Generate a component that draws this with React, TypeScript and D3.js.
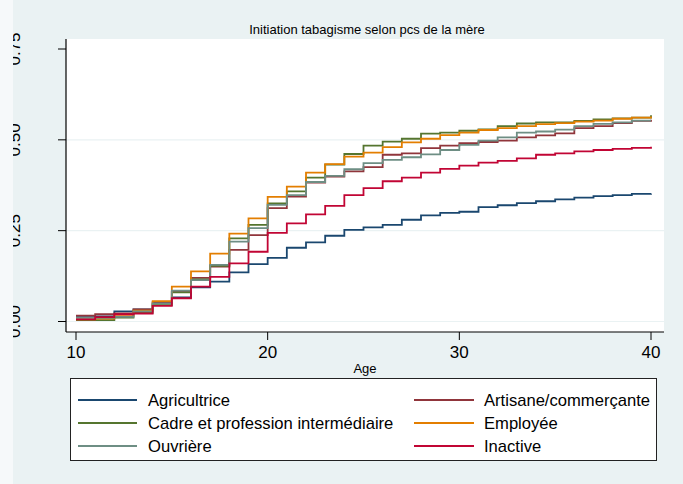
import React from "react";
import * as d3 from "d3";

const ages = d3.range(10, 41);

const seriesNames = [
  "Agricultrice",
  "Artisane/commerçante",
  "Cadre et profession intermédiaire",
  "Employée",
  "Ouvrière",
  "Inactive",
];

const seriesColors = ["#1a476f", "#90353b", "#55752f", "#e37e00", "#6e8e84", "#c10534"];

const agricultrice = [0.012, 0.014, 0.028, 0.033, 0.05, 0.066, 0.094, 0.11, 0.135, 0.158, 0.175, 0.203, 0.218, 0.236, 0.252, 0.259, 0.266, 0.28, 0.292, 0.299, 0.302, 0.315, 0.32, 0.326, 0.331, 0.336, 0.341, 0.345, 0.348, 0.351, 0.352];
const artisane = [0.016, 0.02, 0.022, 0.033, 0.053, 0.082, 0.12, 0.151, 0.197, 0.238, 0.312, 0.344, 0.382, 0.399, 0.413, 0.425, 0.459, 0.463, 0.477, 0.484, 0.491, 0.494, 0.498, 0.507, 0.512, 0.518, 0.532, 0.538, 0.546, 0.552, 0.555];
const cadre = [0.004, 0.004, 0.011, 0.024, 0.045, 0.08, 0.116, 0.153, 0.229, 0.266, 0.325, 0.358, 0.396, 0.432, 0.461, 0.484, 0.495, 0.503, 0.517, 0.52, 0.525, 0.529, 0.538, 0.545, 0.548, 0.548, 0.552, 0.556, 0.559, 0.561, 0.568];
const employee = [0.006, 0.008, 0.015, 0.03, 0.056, 0.096, 0.138, 0.187, 0.242, 0.284, 0.343, 0.371, 0.41, 0.433, 0.454, 0.465, 0.48, 0.493, 0.503, 0.513, 0.52, 0.527, 0.532, 0.538, 0.543, 0.546, 0.55, 0.553, 0.558, 0.561, 0.564];
const ouvriere = [0.01, 0.01, 0.013, 0.028, 0.05, 0.085, 0.114, 0.156, 0.22, 0.257, 0.321, 0.348, 0.384, 0.401, 0.419, 0.436, 0.445, 0.452, 0.46, 0.472, 0.486, 0.498, 0.507, 0.52, 0.523, 0.528, 0.538, 0.544, 0.548, 0.553, 0.553];
const inactive = [0.006, 0.012, 0.02, 0.022, 0.043, 0.064, 0.096, 0.123, 0.16, 0.192, 0.244, 0.27, 0.295, 0.318, 0.348, 0.367, 0.386, 0.396, 0.41, 0.42, 0.429, 0.437, 0.442, 0.449, 0.459, 0.463, 0.468, 0.472, 0.475, 0.478, 0.481];

const seriesValues = [agricultrice, artisane, cadre, employee, ouvriere, inactive];

const xTicks = [10, 20, 30, 40];
const yTicks = [0, 0.25, 0.5, 0.75];
const yTickLabels = ["0.00", "0.25", "0.50", "0.75"];
const gridValues = [0, 0.25, 0.5];

const title = "Initiation tabagisme selon pcs de la mère";
const xTitle = "Age";

const W = 683;
const H = 484;
const plotL = 66;
const plotR = 664;
const plotT = 39;
const plotB = 332;
const FONT = "'Liberation Sans', Arial, Helvetica, sans-serif";
const BG = "#eaf2f3";

export default function App() {
  const x = d3.scaleLinear().domain([10, 40]).range([76, 651]);
  const y = d3.scaleLinear().domain([0, 0.75]).range([321.5, 49]);
  const line = d3
    .line<[number, number]>()
    .x((d) => x(d[0]))
    .y((d) => y(d[1]))
    .curve(d3.curveStepAfter);

  const legendRows = [400, 423, 446];
  const legendCols = [
    { l0: 78, l1: 137, t: 148 },
    { l0: 414, l1: 474, t: 484 },
  ];

  return (
    <div style={{ position: "absolute", left: 0, top: 0 }}>
      <svg width={W} height={H} style={{ display: "block" }}>
        <rect x={0} y={0} width={W} height={H} fill={BG} />
        <rect x={plotL} y={plotT} width={plotR - plotL} height={plotB - plotT} fill="#ffffff" />
        {gridValues.map((g) => (
          <line key={g} x1={plotL} x2={plotR} y1={y(g)} y2={y(g)} stroke={BG} strokeWidth={1.2} />
        ))}
        {seriesValues.map((vals, i) => (
          <path
            key={seriesNames[i]}
            d={line(ages.map((a, j) => [a, vals[j]] as [number, number])) || ""}
            fill="none"
            stroke={seriesColors[i]}
            strokeWidth={1.8}
          />
        ))}
        {/* axes */}
        <line x1={plotL} x2={plotL} y1={plotT} y2={plotB} stroke="#000" strokeWidth={1.2} />
        <line x1={plotL} x2={plotR} y1={plotB} y2={plotB} stroke="#000" strokeWidth={1.2} />
        {yTicks.map((t, i) => (
          <g key={t}>
            <line x1={58} x2={plotL} y1={y(t)} y2={y(t)} stroke="#000" strokeWidth={1} />
            <text
              transform={`translate(20,${y(t)}) rotate(-90)`}
              textAnchor="middle"
              fontFamily={FONT}
              fontSize={17}
              fill="#000"
            >
              {yTickLabels[i]}
            </text>
          </g>
        ))}
        {xTicks.map((t) => (
          <g key={t}>
            <line x1={x(t)} x2={x(t)} y1={plotB} y2={340} stroke="#000" strokeWidth={1} />
            <text x={x(t)} y={358} textAnchor="middle" fontFamily={FONT} fontSize={17} fill="#000">
              {t}
            </text>
          </g>
        ))}
        <text x={365} y={373} textAnchor="middle" fontFamily={FONT} fontSize={13} fill="#000">
          {xTitle}
        </text>
        <text x={367} y={34} textAnchor="middle" fontFamily={FONT} fontSize={13} fill="#000">
          {title}
        </text>
        {/* left light strip */}
        <rect x={0} y={0} width={13} height={H} fill="#f6f9fa" />
        {/* legend */}
        <rect x={70.5} y={378.5} width={586} height={82} fill="#ffffff" stroke="#222" strokeWidth={1} />
        {seriesNames.map((name, i) => {
          const row = Math.floor(i / 2);
          const col = legendCols[i % 2];
          const cy = legendRows[row];
          return (
            <g key={name}>
              <line x1={col.l0} x2={col.l1} y1={cy} y2={cy} stroke={seriesColors[i]} strokeWidth={1.8} />
              <text x={col.t} y={cy + 6} fontFamily={FONT} fontSize={16.6} fill="#000">
                {name}
              </text>
            </g>
          );
        })}
      </svg>
    </div>
  );
}
